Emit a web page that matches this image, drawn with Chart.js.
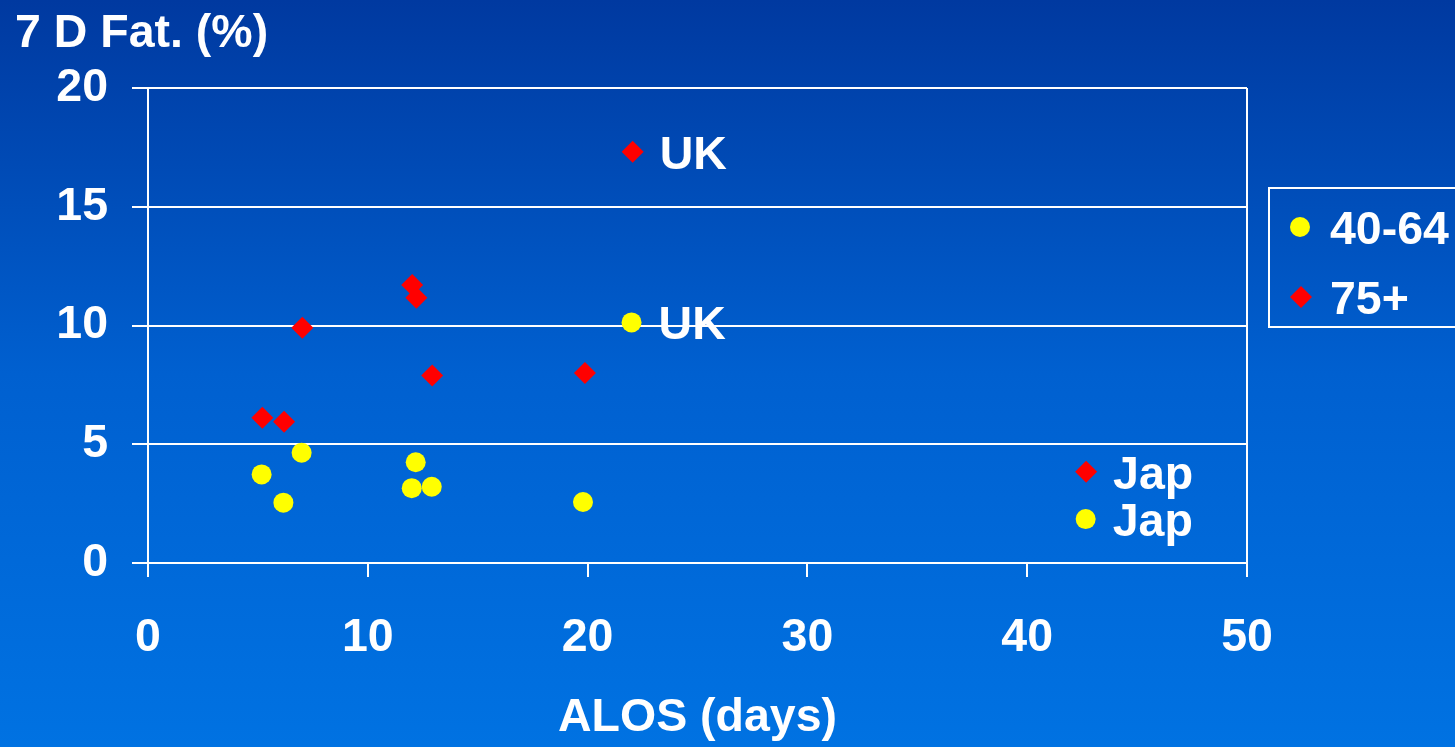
<!DOCTYPE html>
<html>
<head>
<meta charset="utf-8">
<title>7 D Fat. vs ALOS</title>
<script src="https://cdn.jsdelivr.net/npm/chart.js@4.4.1/dist/chart.umd.min.js"></script>
<style>
  html, body { margin: 0; padding: 0; }
  body {
    width: 1455px;
    height: 747px;
    overflow: hidden;
    background: linear-gradient(to bottom, #0039a0 0%, #0060d0 50%, #0072e2 100%);
  }
  #wrap { position: relative; width: 1455px; height: 747px; }
</style>
</head>
<body>
<div id="wrap"><canvas id="fatChart"></canvas></div>
<script>
// 7 günlük ölüm oranı / ortalama yatış süresi, iki yaş grubu
const WHITE = "#ffffff";
const YELLOW = "#ffff00";
const RED = "#ff0000";
const FONT = '"Liberation Sans", Arial, sans-serif';
const FSIZE = 46.5;

const ALOS_4064 = [5.17, 6.16, 6.99, 12.18, 12.0, 12.91, 19.79, 22.0, 42.66];
const FAT_4064 = [3.73, 2.54, 4.64, 4.24, 3.15, 3.21, 2.57, 10.13, 1.85];
const TAGS_4064 = ["", "", "", "", "", "", "", "UK", "Jap"];

const ALOS_75 = [5.2, 6.19, 7.02, 12.02, 12.21, 12.93, 19.88, 22.05, 42.68];
const FAT_75 = [6.12, 5.95, 9.91, 11.71, 11.17, 7.89, 8.0, 17.32, 3.84];
const TAGS_75 = ["", "", "", "", "", "", "", "UK", "Jap"];

const X_TICKS = [0, 10, 20, 30, 40, 50];
const Y_TICKS = [0, 5, 10, 15, 20];
const SERIES = ["40-64", "75+"];

const toPoints = (xs, ys) => xs.map((x, i) => ({ x, y: ys[i] }));

Chart.defaults.font.family = FONT;
Chart.defaults.font.size = FSIZE;
Chart.defaults.font.weight = "bold";
Chart.defaults.color = WHITE;

// "UK" / "Jap" etiketleri: noktanın sağına, dikeyde ortalı
const pointTags = {
  id: "pointTags",
  afterDatasetsDraw(chart) {
    const { ctx } = chart;
    const tags = [TAGS_4064, TAGS_75];
    ctx.save();
    ctx.fillStyle = WHITE;
    ctx.font = `bold ${FSIZE}px ${FONT}`;
    ctx.textAlign = "left";
    ctx.textBaseline = "alphabetic";
    chart.data.datasets.forEach((ds, d) => {
      chart.getDatasetMeta(d).data.forEach((el, i) => {
        const t = tags[d][i];
        if (t) ctx.fillText(t, el.x + 27, el.y + 17);
      });
    });
    ctx.restore();
  },
};

// Eksen başlığı (üst sol) ve kutulu gösterge
const frame = {
  id: "frame",
  afterDraw(chart) {
    const { ctx } = chart;
    ctx.save();
    ctx.fillStyle = WHITE;
    ctx.font = `bold ${FSIZE}px ${FONT}`;
    ctx.textAlign = "left";
    ctx.textBaseline = "alphabetic";
    ctx.fillText("7 D Fat. (%)", 15, 47);

    ctx.strokeStyle = WHITE;
    ctx.lineWidth = 2;
    ctx.strokeRect(1269, 188, 200, 139);

    const rowsY = [227, 297];
    chart.data.datasets.forEach((ds, d) => {
      const cy = rowsY[d];
      ctx.fillStyle = ds.backgroundColor;
      ctx.beginPath();
      if (ds.pointStyle === "rectRot") {
        const r = ds.pointRadius;
        ctx.moveTo(1301 - r, cy);
        ctx.lineTo(1301, cy - r);
        ctx.lineTo(1301 + r, cy);
        ctx.lineTo(1301, cy + r);
        ctx.closePath();
      } else {
        ctx.arc(1300, cy, ds.pointRadius, 0, Math.PI * 2);
      }
      ctx.fill();
      ctx.fillStyle = WHITE;
      ctx.fillText(ds.label, 1330, cy + 17);
    });
    ctx.restore();
  },
};

new Chart(document.getElementById("fatChart"), {
  type: "scatter",
  data: {
    datasets: [
      {
        label: SERIES[0],
        data: toPoints(ALOS_4064, FAT_4064),
        pointStyle: "circle",
        pointRadius: 10,
        backgroundColor: YELLOW,
        borderWidth: 0,
      },
      {
        label: SERIES[1],
        data: toPoints(ALOS_75, FAT_75),
        pointStyle: "rectRot",
        pointRadius: 11,
        backgroundColor: RED,
        borderWidth: 0,
      },
    ],
  },
  options: {
    responsive: true,
    maintainAspectRatio: false,
    animation: false,
    events: [],
    layout: { padding: { top: 88, right: 208, left: 0, bottom: 0 } },
    plugins: {
      legend: { display: false },
      tooltip: { enabled: false },
    },
    scales: {
      x: {
        type: "linear",
        min: 0,
        max: 50,
        afterBuildTicks: (s) => { s.ticks = X_TICKS.map((v) => ({ value: v })); },
        afterFit: (s) => { s.height = 184; },
        ticks: { color: WHITE, padding: 33, maxRotation: 0 },
        grid: {
          drawOnChartArea: true,
          color: (c) => (c.tick && c.tick.value === 50 ? WHITE : "rgba(0,0,0,0)"),
          tickColor: WHITE,
          tickLength: 14,
          lineWidth: 2,
        },
        border: { color: WHITE, width: 2 },
        title: {
          display: true,
          text: "ALOS (days)",
          color: WHITE,
          padding: { top: 0, bottom: 1 },
        },
      },
      y: {
        min: 0,
        max: 20,
        afterBuildTicks: (s) => { s.ticks = Y_TICKS.map((v) => ({ value: v })); },
        afterFit: (s) => { s.width = 148; },
        ticks: { color: WHITE, padding: 24 },
        grid: {
          color: WHITE,
          tickColor: WHITE,
          tickLength: 16,
          lineWidth: 2,
        },
        border: { color: WHITE, width: 2 },
      },
    },
  },
  plugins: [pointTags, frame],
});
</script>
</body>
</html>
